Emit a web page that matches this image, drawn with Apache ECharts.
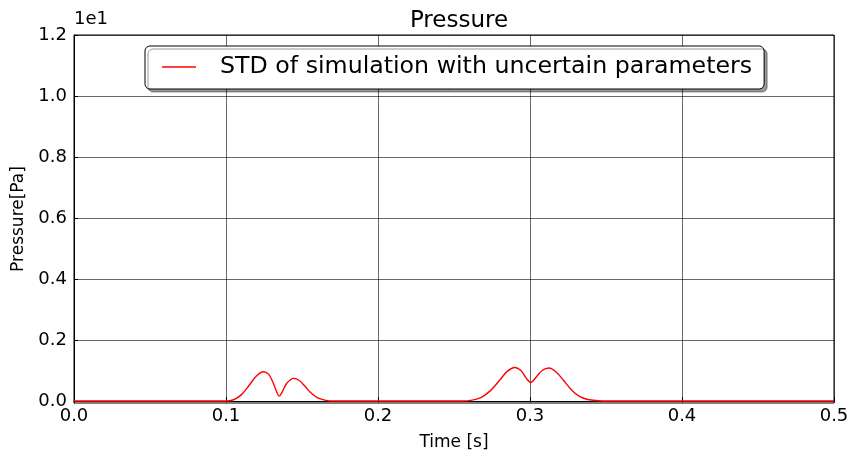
<!DOCTYPE html>
<html>
<head>
<meta charset="utf-8">
<script src="https://cdn.jsdelivr.net/npm/echarts@6/dist/echarts.min.js"></script>
<style>
html,body{margin:0;padding:0;background:#fff;}
#c{width:852px;height:457px;}
</style>
</head>
<body>
<div id="c"></div>
<script>
// Time [s]
const timeValues = [0.000, 0.100, 0.105, 0.110, 0.115, 0.120, 0.1245, 0.128, 0.131, 0.1335, 0.135, 0.137, 0.140, 0.1445, 0.148, 0.152, 0.156, 0.160, 0.165, 0.170,
  0.255, 0.262, 0.268, 0.274, 0.280, 0.285, 0.290, 0.294, 0.2975, 0.3005, 0.304, 0.308, 0.3125, 0.317, 0.322, 0.327, 0.332, 0.338, 0.345, 0.350, 0.500];
// STD of pressure, in units of 1e1 Pa
const stdValues = [0.000, 0.000, 0.004, 0.020, 0.050, 0.082, 0.096, 0.088, 0.060, 0.028, 0.016, 0.030, 0.058, 0.074, 0.068, 0.048, 0.026, 0.011, 0.003, 0.000,
  0.000, 0.003, 0.012, 0.034, 0.068, 0.097, 0.110, 0.100, 0.075, 0.061, 0.078, 0.100, 0.108, 0.096, 0.068, 0.038, 0.017, 0.005, 0.001, 0.000, 0.000];
const yTicks = [0.0, 0.2, 0.4, 0.6, 0.8, 1.0, 1.2];
const xTicks = [0.0, 0.1, 0.2, 0.3, 0.4, 0.5];
const seriesName = 'STD of simulation with uncertain parameters';

const font = 'DejaVu Sans';
const chart = echarts.init(document.getElementById('c'));
chart.setOption({
  animation: false,
  textStyle: {fontFamily: font},
  title: {text: 'Pressure', left: 454, textAlign: 'center', top: 5, textStyle: {fontFamily: font, fontSize: 23, fontWeight: 'normal', color: '#000'}},
  graphic: [{type: 'text', left: 74, top: 10, style: {text: '1e1', font: '18px "DejaVu Sans"', fill: '#000'}}],
  legend: {
    left: 145, top: 46,
    padding: [9, 12, 10, 17],
    icon: 'rect',
    backgroundColor: '#fff', borderColor: '#000', borderWidth: 1, borderRadius: 5,
    shadowColor: 'rgba(0,0,0,0.4)', shadowBlur: 0, shadowOffsetX: 3, shadowOffsetY: 3,
    itemWidth: 34, itemHeight: 1.5, itemGap: 10,
    textStyle: {fontFamily: font, fontSize: 23.7, color: '#000', padding: [0, 0, 0, 19], lineHeight: 23},
    data: [seriesName]
  },
  grid: {left: 74, right: 18, top: 35, bottom: 54, outerBoundsMode: 'none', containLabel: false, show: true, borderColor: '#000', borderWidth: 1, backgroundColor: 'transparent'},
  xAxis: {
    type: 'value', min: 0, max: 0.5, interval: 0.1,
    name: 'Time [s]', nameLocation: 'middle', nameGap: 31,
    nameTextStyle: {fontFamily: font, fontSize: 17, color: '#000'},
    axisLine: {show: true, lineStyle: {color: '#000', width: 1}},
    axisTick: {show: true, inside: true, length: 4, lineStyle: {color: '#000'}},
    axisLabel: {fontFamily: font, fontSize: 18, color: '#000', margin: 4, formatter: v => v.toFixed(1)},
    splitLine: {show: true, lineStyle: {color: '#000', width: 0.8, opacity: 0.75}}
  },
  yAxis: {
    type: 'value', min: -0.0066, max: 1.2,
    name: 'Pressure[Pa]', nameLocation: 'middle', nameGap: 45,
    nameTextStyle: {fontFamily: font, fontSize: 17, color: '#000'},
    axisLine: {show: true, lineStyle: {color: '#000', width: 1}},
    axisTick: {show: true, inside: true, length: 4, lineStyle: {color: '#000'}, customValues: yTicks},
    axisLabel: {fontFamily: font, fontSize: 18, color: '#000', margin: 7, customValues: yTicks, formatter: v => v.toFixed(1)},
    splitLine: {show: true, lineStyle: {color: '#000', width: 0.8, opacity: 0.75}}
  },
  series: [{
    name: seriesName,
    type: 'line',
    symbol: 'none',
    smooth: 0.35,
    lineStyle: {color: '#ff0000', width: 1.4},
    itemStyle: {color: '#ff0000'},
    data: timeValues.map((t, i) => [t, stdValues[i]])
  }]
});
</script>
</body>
</html>
